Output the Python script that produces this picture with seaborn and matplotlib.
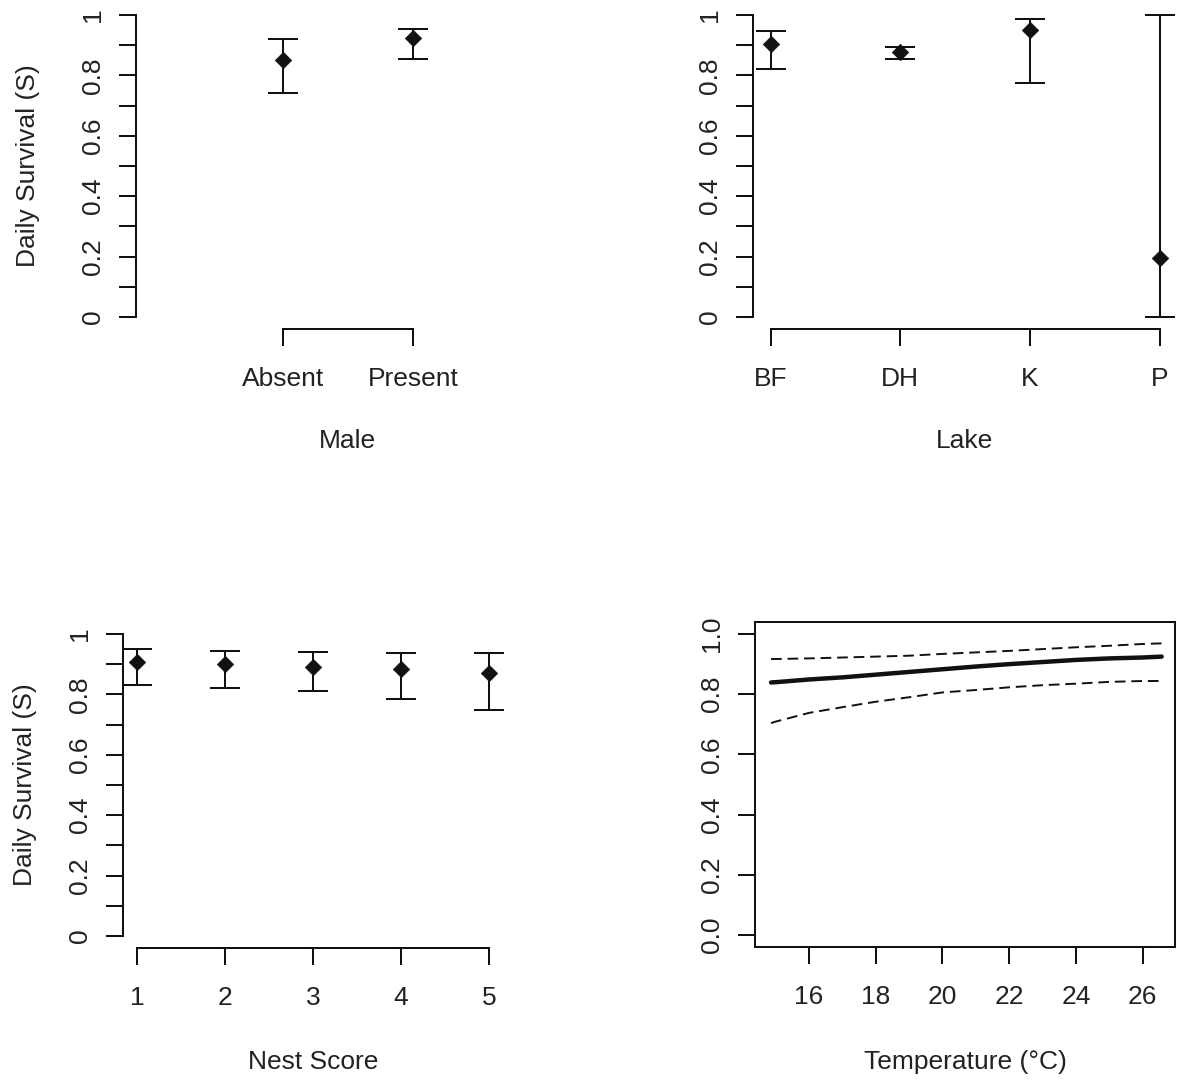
import numpy as np
import pandas as pd
import matplotlib
matplotlib.use("Agg")
import matplotlib.pyplot as plt
import seaborn as sns

# ---------------- data ----------------
male_labels = ["Absent", "Present"]
male_est = [0.851, 0.925]
male_lcl = [0.743, 0.854]
male_ucl = [0.921, 0.955]

lake_labels = ["BF", "DH", "K", "P"]
lake_est = [0.904, 0.879, 0.950, 0.196]
lake_lcl = [0.821, 0.854, 0.776, 0.000]
lake_ucl = [0.948, 0.895, 0.987, 1.000]

nest_labels = ["1", "2", "3", "4", "5"]
nest_est = [0.906, 0.900, 0.892, 0.884, 0.872]
nest_lcl = [0.830, 0.823, 0.811, 0.784, 0.750]
nest_ucl = [0.949, 0.943, 0.941, 0.936, 0.936]

temp = [14.86, 15, 16, 17, 18, 19, 20, 21, 22, 23, 24, 25, 26, 26.57]
temp_est = [0.839, 0.840, 0.849, 0.856, 0.865, 0.874, 0.883, 0.892, 0.900,
            0.907, 0.914, 0.919, 0.922, 0.925]
temp_ucl = [0.917, 0.917, 0.919, 0.922, 0.925, 0.928, 0.934, 0.939, 0.944,
            0.950, 0.956, 0.961, 0.967, 0.969]
temp_lcl = [0.704, 0.709, 0.738, 0.757, 0.775, 0.790, 0.806, 0.814, 0.823,
            0.830, 0.835, 0.841, 0.844, 0.844]

ylabel = "Daily Survival (S)"

# ---------------- style ----------------
sns.set_theme(style="ticks")
plt.rcParams["font.family"] = ["Liberation Sans", "DejaVu Sans"]
FS = 19
INK = "#111111"
TXT = "#222222"
LW = 1.45

W, H = 1177, 1082
fig = plt.figure(figsize=(W / 100, H / 100), dpi=100)
fig.patch.set_facecolor("white")


def add_ax(left, top, right, bottom):
    return fig.add_axes([left / W, 1 - bottom / H, (right - left) / W, (bottom - top) / H])


def style_common(ax):
    ax.set_facecolor("white")
    ax.tick_params(axis="both", which="both", direction="out", length=12,
                   width=LW, color=INK, labelsize=FS, labelcolor=TXT)
    ax.tick_params(axis="y", which="both", pad=10, labelrotation=90)
    ax.tick_params(axis="x", which="both", pad=15.5)
    for lbl in ax.get_yticklabels():
        lbl.set_va("center")
    for s in ax.spines.values():
        s.set_linewidth(LW)
        s.set_color(INK)


def cat_panel(ax, labels, est, lcl, ucl, xlim, xlabel, show_ylabel, xlab_y, ylab_x):
    pos = np.arange(1, len(labels) + 1)
    df = pd.DataFrame({"pos": pos, "est": est})
    yerr = np.vstack([np.array(est) - np.array(lcl), np.array(ucl) - np.array(est)])
    ax.errorbar(pos, est, yerr=yerr, fmt="none", ecolor=INK, elinewidth=LW,
                capsize=10.8, capthick=LW, zorder=2)
    sns.scatterplot(data=df, x="pos", y="est", marker="D", s=70, color=INK,
                    edgecolor=INK, linewidth=0.5, ax=ax, zorder=3, legend=False)
    ax.set_xlim(*xlim)
    ax.set_ylim(-0.04, 1.04)
    ax.set_xticks(pos)
    ax.set_xticklabels(labels)
    ax.set_yticks([0, 0.2, 0.4, 0.6, 0.8, 1.0])
    ax.set_yticklabels(["0", "0.2", "0.4", "0.6", "0.8", "1"])
    ax.set_yticks([0.1, 0.3, 0.5, 0.7, 0.9], minor=True)
    for side in ["top", "right"]:
        ax.spines[side].set_visible(False)
    ax.spines["left"].set_bounds(0, 1)
    ax.spines["bottom"].set_bounds(pos[0], pos[-1])
    style_common(ax)
    ax.set_xlabel(xlabel, fontsize=FS, color=TXT, va="center")
    ax.xaxis.set_label_coords(0.5, xlab_y)
    if show_ylabel:
        ax.set_ylabel(ylabel, fontsize=FS, color=TXT, va="center")
        ax.yaxis.set_label_coords(ylab_x, 0.5)
    else:
        ax.set_ylabel("")


# Panel 1: Male
ax1 = add_ax(136, 3, 559, 329)
cat_panel(ax1, male_labels, male_est, male_lcl, male_ucl, (-0.13, 3.12),
          "Male", True, (329 - 441) / 326, (28 - 136) / 423)

# Panel 2: Lake
ax2 = add_ax(753, 3, 1176, 329)
cat_panel(ax2, lake_labels, lake_est, lake_lcl, lake_ucl, (0.865, 4.125),
          "Lake", False, (329 - 441) / 326, 0)

# Panel 3: Nest Score
ax3 = add_ax(123, 622, 503, 948)
cat_panel(ax3, nest_labels, nest_est, nest_lcl, nest_ucl, (0.84, 5.16),
          "Nest Score", True, (948 - 1062) / 326, (25 - 123) / 380)

# Panel 4: Temperature
ax4 = add_ax(755, 622, 1175, 947)
tdf = pd.DataFrame({"temp": temp, "est": temp_est, "lcl": temp_lcl, "ucl": temp_ucl})
sns.lineplot(data=tdf, x="temp", y="est", color=INK, linewidth=3.2, ax=ax4,
             sort=False, estimator=None)
sns.lineplot(data=tdf, x="temp", y="ucl", color=INK, linewidth=1.4, ax=ax4,
             sort=False, estimator=None, dashes=False)
sns.lineplot(data=tdf, x="temp", y="lcl", color=INK, linewidth=1.4, ax=ax4,
             sort=False, estimator=None, dashes=False)
for ln in ax4.lines[1:]:
    ln.set_dashes((5.5, 3.0))
ax4.set_xlim(14.38, 26.97)
ax4.set_ylim(-0.04, 1.04)
ax4.set_xticks([16, 18, 20, 22, 24, 26])
ax4.set_yticks([0, 0.2, 0.4, 0.6, 0.8, 1.0])
ax4.set_yticklabels(["0.0", "0.2", "0.4", "0.6", "0.8", "1.0"])
style_common(ax4)
ax4.set_ylabel("")
ax4.set_xlabel("Temperature (\u00b0C)", fontsize=FS, color=TXT, va="center")
ax4.xaxis.set_label_coords(0.5, (947 - 1062) / 325)

fig.savefig("out.png", dpi=100, facecolor="white")
